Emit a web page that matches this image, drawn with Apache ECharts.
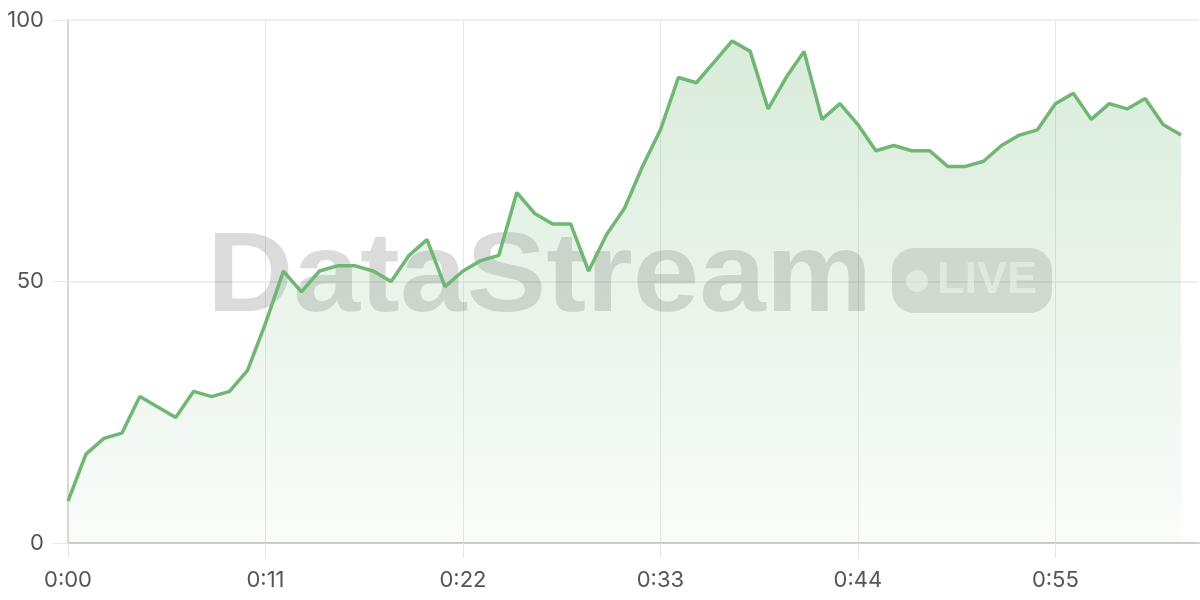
<!DOCTYPE html>
<html>
<head>
<meta charset="utf-8">
<script src="https://cdn.jsdelivr.net/npm/echarts@6/dist/echarts.min.js"></script>
<style>html,body{margin:0;padding:0;background:#fff}#c{width:1200px;height:600px}</style>
</head>
<body>
<div id="c"></div>
<script>
// seconds 0..63 as m:ss labels
const timeLabels = ["0:00","0:01","0:02","0:03","0:04","0:05","0:06","0:07","0:08","0:09","0:10","0:11","0:12","0:13","0:14","0:15","0:16","0:17","0:18","0:19","0:20","0:21","0:22","0:23","0:24","0:25","0:26","0:27","0:28","0:29","0:30","0:31","0:32","0:33","0:34","0:35","0:36","0:37","0:38","0:39","0:40","0:41","0:42","0:43","0:44","0:45","0:46","0:47","0:48","0:49","0:50","0:51","0:52","0:53","0:54","0:55","0:56","0:57","0:58","0:59","1:00","1:01","1:02","1:03"];
const streamValues = [8,17,20,21,28,26,24,29,28,29,33,42,52,48,52,53,53,52,50,55,58,49,52,54,55,67,63,61,61,52,59,64,72,79,89,88,92,96,94,83,89,94,81,84,80,75,76,75,75,72,72,73,76,78,79,84,86,81,84,83,85,80,78];
const yTicks = [0, 50, 100];
const watermarkText = "DataStream";
const badgeText = "LIVE";

const chart = echarts.init(document.getElementById('c'), null, {renderer: 'canvas'});
const lineColor = '#70b674';
const labelFont = 'Inter, "Liberation Sans", Arial, sans-serif';
chart.setOption({
  animation: false,
  backgroundColor: '#fff',
  grid: {left: 68, right: 1, top: 20, bottom: 57},
  xAxis: {
    type: 'category',
    data: timeLabels,
    boundaryGap: false,
    axisLine: {show: true, lineStyle: {color: '#cccccc', width: 2}},
    axisTick: {show: true, interval: 10, length: 15, lineStyle: {color: '#e4e4e4'}},
    axisLabel: {interval: 10, margin: 26, color: '#555', fontSize: 22, fontFamily: labelFont},
    splitLine: {show: true, interval: 10, lineStyle: {color: '#e6e6e6'}}
  },
  yAxis: {
    type: 'value',
    min: yTicks[0], max: yTicks[yTicks.length - 1], interval: 50,
    axisLine: {show: true, lineStyle: {color: '#cfcfcf', width: 1.5}},
    axisTick: {show: true, length: 16, lineStyle: {color: '#e8e8e8'}},
    axisLabel: {margin: 24, color: '#555', fontSize: 22, fontFamily: labelFont},
    splitLine: {show: true, lineStyle: {color: '#eaeaea', width: 1.5}}
  },
  graphic: [
    {type: 'text', z: 1, silent: true, x: 207, y: 280, scaleX: 1.05, style: {text: watermarkText, x: 0, y: 0, fill: 'rgba(0,0,0,0.14)', font: 'bold 114px "Liberation Sans", Arial, sans-serif', textAlign: 'left', verticalAlign: 'middle'}},
    {type: 'rect', z: 1, silent: true, shape: {x: 892, y: 248, width: 160, height: 65, r: 22}, style: {fill: 'rgba(0,0,0,0.12)'}},
    {type: 'circle', z: 1, silent: true, shape: {cx: 917, cy: 281, r: 11}, style: {fill: 'rgba(255,255,255,0.6)'}},
    {type: 'text', z: 1, silent: true, style: {text: badgeText, x: 937, y: 281, fill: 'rgba(255,255,255,0.6)', font: 'bold 45px "Liberation Sans", Arial, sans-serif', textAlign: 'left', verticalAlign: 'middle'}}
  ],
  series: [{
    type: 'line',
    data: streamValues,
    showSymbol: false,
    symbol: 'none',
    z: 3,
    lineStyle: {color: lineColor, width: 3.5},
    areaStyle: {
      color: new echarts.graphic.LinearGradient(0, 0, 0, 1, [
        {offset: 0, color: 'rgba(112,182,116,0.38)'},
        {offset: 1, color: 'rgba(112,182,116,0.05)'}
      ])
    }
  }]
});
</script>
</body>
</html>
